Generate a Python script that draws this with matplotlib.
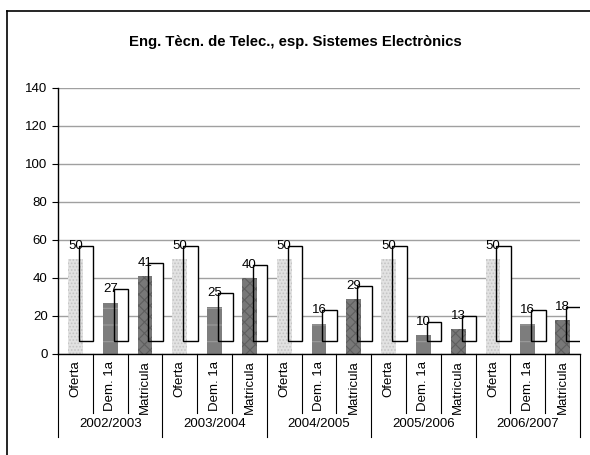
import matplotlib
matplotlib.use("Agg")
from matplotlib import pyplot as plt
from matplotlib.patches import Rectangle
from matplotlib.lines import Line2D

plt.rcParams['font.family'] = ['Liberation Sans', 'DejaVu Sans']
plt.rcParams['hatch.linewidth'] = 0.8

# dades
cursos = ["2002/2003", "2003/2004", "2004/2005", "2005/2006", "2006/2007"]
categories = ["Oferta", "Dem. 1a", "Matricula"]
oferta = [50, 50, 50, 50, 50]
demanda = [27, 25, 16, 10, 16]
matricula = [41, 40, 29, 13, 18]

series = [oferta, demanda, matricula]
estils = [
    dict(facecolor='#e2e2e2', hatch='.....', edgecolor='#c4c4c4'),
    dict(facecolor='#7d7d7d', hatch='-', edgecolor='#9c9c9c'),
    dict(facecolor='#787878', hatch='xxx', edgecolor='#5e5e5e'),
]

fig = plt.figure(figsize=(5.9, 4.55), dpi=100)
ax = fig.add_axes([58/590, 1-354/455, 522/590, 266/455])

ncat = len(categories)
bar_w = 0.42
offset = 7

for g in range(len(cursos)):
    for c in range(ncat):
        x = g * ncat + c
        v = series[c][g]
        ax.bar(x, v, width=bar_w, linewidth=0, zorder=2, **estils[c])
        # caixa blanca de l'etiqueta (desplaçada)
        ax.add_patch(Rectangle((x + 0.1, offset), bar_w, v, facecolor='white',
                               edgecolor='none', zorder=1))
        ax.add_patch(Rectangle((x + 0.1, offset), bar_w, v, facecolor='none',
                               edgecolor='black', linewidth=1.0, zorder=3))
        ax.text(x, v + offset, str(v), ha='center', va='center', fontsize=9.5, zorder=4)

n = len(cursos) * ncat
ax.set_xlim(-0.5, n - 0.5)
ax.set_ylim(0, 140)
ax.set_yticks(range(0, 141, 20))
ax.tick_params(axis='y', labelsize=9.5, length=4, width=0.8, direction='out')
ax.set_xticks([])
ax.yaxis.grid(True, color='#a0a0a0', linewidth=1.0, zorder=0)
ax.set_axisbelow(True)
for s in ['top', 'right']:
    ax.spines[s].set_visible(False)
ax.spines['left'].set_linewidth(1.0)
ax.spines['bottom'].set_linewidth(1.0)

# etiquetes de categoria i grups
tr = ax.get_xaxis_transform()
for g, curs in enumerate(cursos):
    for c, cat in enumerate(categories):
        x = g * ncat + c
        ax.text(x, -0.025, cat, rotation=90, ha='center', va='top', fontsize=9.5,
                transform=tr)
        if c > 0:
            ax.add_line(Line2D([x - 0.5, x - 0.5], [0, -0.222], color='black',
                               linewidth=0.8, transform=tr, clip_on=False))
    ax.text(g * ncat + 1, -0.262, curs, ha='center', va='center', fontsize=9.5,
            transform=tr)
for g in range(len(cursos) + 1):
    x = g * ncat - 0.5
    ax.add_line(Line2D([x, x], [0, -0.312], color='black', linewidth=0.8,
                       transform=tr, clip_on=False))

fig.text(0.5, 1 - 42/455, "Eng. Tècn. de Telec., esp. Sistemes Electrònics",
         ha='center', va='center', fontsize=10.7, fontweight='bold')

# marc del gràfic
fig.add_artist(Line2D([7/590, 1], [1 - 11/455, 1 - 11/455], color='black',
                      linewidth=1.2, transform=fig.transFigure))
fig.add_artist(Line2D([7/590, 7/590], [0, 1 - 11/455], color='black',
                      linewidth=1.2, transform=fig.transFigure))

fig.savefig("out.png", dpi=100)
